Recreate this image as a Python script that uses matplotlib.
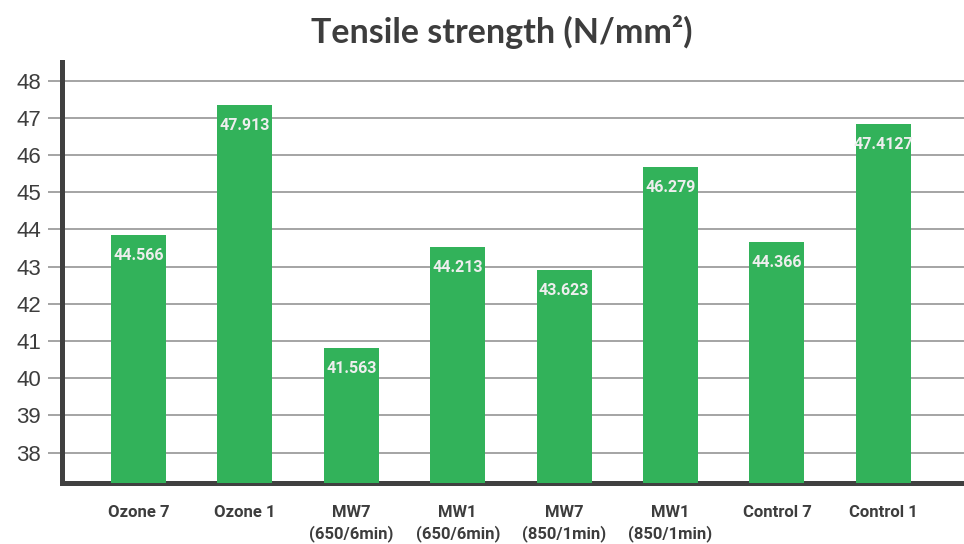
import matplotlib
matplotlib.use("Agg")
import matplotlib.pyplot as plt
import numpy as np

categories = ["Ozone 7", "Ozone 1", "MW7\n(650/6min)", "MW1\n(650/6min)",
              "MW7\n(850/1min)", "MW1\n(850/1min)", "Control 7", "Control 1"]
bar_heights = [43.85, 47.35, 40.81, 43.53, 42.91, 45.68, 43.66, 46.83]
value_labels = ["44.566", "47.913", "41.563", "44.213", "43.623", "46.279", "44.366", "47.4127"]
yticks = [38, 39, 40, 41, 42, 43, 44, 45, 46, 47, 48]

narrow = ["Roboto", "DejaVu Sans"]
dark = "#3d3d3d"
green = "#32b25a"

fig = plt.figure(figsize=(9.64, 5.44), dpi=100)
ax = fig.add_axes([62/964, (544-482.7)/544, 1 - 62/964, (482.7-62)/544])

x = np.arange(len(categories))
ax.bar(x, np.array(bar_heights) - 37.0, bottom=37.0, width=0.517, color=green, zorder=3)

for xi, h, lab in zip(x, bar_heights, value_labels):
    ax.annotate(lab, (xi, h), xytext=(0, -15), textcoords="offset points",
                ha="center", va="center", color="#eeeeee", fontsize=11.5,
                fontweight="bold", family=narrow, zorder=4)

ax.set_xlim(-0.719, 7.758)
ax.set_ylim(37.19, 48.5)
ax.set_yticks(yticks)
ax.set_yticklabels([str(t) for t in yticks], family=["Liberation Sans", "DejaVu Sans"],
                   fontsize=16, color=dark)
ax.yaxis.grid(True, color="#8c8c8c", linewidth=1.1)
ax.set_axisbelow(True)
ax.tick_params(axis="y", length=10, width=1.1, color="#8c8c8c", pad=5)

ax.set_xticks(x)
ax.set_xticklabels(categories, family=narrow, fontsize=12, fontweight="bold",
                   color=dark, linespacing=1.4)
ax.tick_params(axis="x", length=0, pad=16)

for s in ["top", "right"]:
    ax.spines[s].set_visible(False)
for s in ["left", "bottom"]:
    ax.spines[s].set_color("#404040")
    ax.spines[s].set_linewidth(3.6)
    ax.spines[s].set_zorder(2)

fig.text(502/964, 1 - 32/544, "Tensile strength (N/mm²)", ha="center", va="center",
         family=["Lato", "DejaVu Sans"], fontweight="bold", fontsize=24.5, color=dark)

fig.savefig("out.png", dpi=100)
